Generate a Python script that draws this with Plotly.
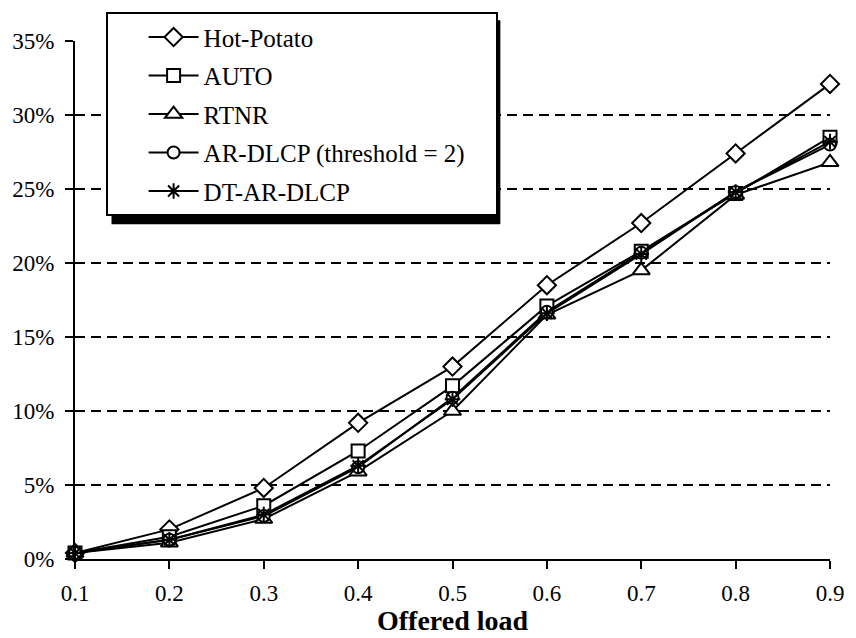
import plotly.graph_objects as go

offered_load = [0.1, 0.2, 0.3, 0.4, 0.5, 0.6, 0.7, 0.8, 0.9]
hot_potato = [0.4, 2.0, 4.8, 9.2, 13.0, 18.5, 22.7, 27.4, 32.1]
auto = [0.4, 1.5, 3.6, 7.3, 11.7, 17.1, 20.8, 24.7, 28.5]
rtnr = [0.4, 1.1, 2.7, 5.9, 10.0, 16.5, 19.5, 24.6, 26.8]
ar_dlcp = [0.4, 1.3, 2.9, 6.2, 10.9, 16.7, 20.7, 24.8, 28.0]
dt_ar_dlcp = [0.4, 1.3, 3.0, 6.3, 10.8, 16.6, 20.6, 24.8, 28.2]

series_names = ["Hot-Potato", "AUTO", "RTNR", "AR-DLCP (threshold = 2)", "DT-AR-DLCP"]
series_values = [hot_potato, auto, rtnr, ar_dlcp, dt_ar_dlcp]
symbols = ["diamond", "square", "triangle-up", "circle", "asterisk-open"]
sizes = [14, 13, 15, 12, 13]

x_ticks = [0.1, 0.2, 0.3, 0.4, 0.5, 0.6, 0.7, 0.8, 0.9]
x_tick_labels = ["0.1", "0.2", "0.3", "0.4", "0.5", "0.6", "0.7", "0.8", "0.9"]
y_ticks = [0, 5, 10, 15, 20, 25, 30, 35]
y_tick_labels = ["0%", "5%", "10%", "15%", "20%", "25%", "30%", "35%"]
x_title = "Offered load"

FONT = "Liberation Serif, Times New Roman, serif"
PAD = "\u00a0" * 4  # right padding inside the legend box

fig = go.Figure()
for i, (name, vals, sym, sz) in enumerate(zip(series_names, series_values, symbols, sizes)):
    is_open = sym.endswith("-open")
    fig.add_trace(go.Scatter(
        x=offered_load, y=vals, name=name + PAD, mode="lines+markers",
        legendgroup=f"g{i}",
        line=dict(color="black", width=2),
        marker=dict(symbol=sym, size=sz, color="black" if is_open else "white",
                    line=dict(color="black", width=2)),
        cliponaxis=False,
    ))

fig.update_layout(
    width=856, height=638,
    margin=dict(l=74, r=17, t=36, b=79),
    paper_bgcolor="white", plot_bgcolor="white",
    font=dict(family=FONT, size=23, color="black"),
    showlegend=True,
    legend=dict(
        x=(105 - 74) / 765, y=(559 - 7) / 523, xanchor="left", yanchor="top",
        bgcolor="white", bordercolor="black", borderwidth=2,
        font=dict(family=FONT, size=25, color="black"),
        tracegroupgap=3, itemwidth=50, indentation=36,
    ),
    xaxis=dict(
        range=[0.1, 0.9], tickvals=x_ticks, ticktext=x_tick_labels,
        showline=True, linecolor="black", linewidth=2,
        ticks="outside", ticklen=8, tickwidth=2, tickcolor="black",
        showgrid=False, zeroline=False,
        ticklabelstandoff=4,
    ),
    xaxis2=dict(
        overlaying="x", matches="x", anchor="y",
        range=[0.1, 0.9], tickvals=x_ticks, showticklabels=False,
        ticks="inside", ticklen=7, tickwidth=2, tickcolor="black",
        showgrid=False, zeroline=False, showline=False,
    ),
    yaxis=dict(
        range=[0, 35], tickvals=y_ticks, ticktext=y_tick_labels,
        showline=True, linecolor="black", linewidth=2,
        ticks="outside", ticklen=8, tickwidth=2, tickcolor="black",
        showgrid=True, gridcolor="black", gridwidth=2, griddash="10px,6px",
        zeroline=False, ticklabelstandoff=6,
    ),
    annotations=[dict(
        text=f"<b>{x_title}</b>", xref="paper", yref="paper",
        x=0.5, y=(559 - 639) / 523, xanchor="center", yanchor="bottom",
        showarrow=False, font=dict(family=FONT, size=28, color="black"),
    )],
)

# legend drop shadow
fig.add_shape(type="rect", xref="paper", yref="paper",
              x0=(111 - 74) / 765, x1=(505 - 74) / 765,
              y0=(559 - 221) / 523, y1=(559 - 15) / 523,
              fillcolor="black", line=dict(width=0), layer="above")

fig.write_html("out.html")
